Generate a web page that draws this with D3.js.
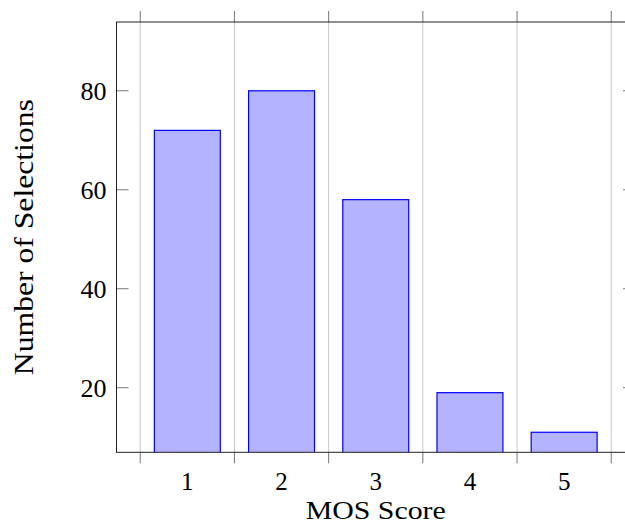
<!DOCTYPE html>
<html><head><meta charset="utf-8">
<script src="https://cdn.jsdelivr.net/npm/d3@7"></script>
<style>body{margin:0;background:#fff}svg{display:block}</style>
</head><body>
<script>
const categories = [1, 2, 3, 4, 5];
const values = [72, 80, 58, 19, 11];
const yTicks = [20, 40, 60, 80];
const xGrid = [0.5, 1.5, 2.5, 3.5, 4.5, 5.5];
const xLabel = "MOS Score";
const yLabel = "Number of Selections";

(function () {
const W = 625, H = 525;
const svg = d3.select("body").append("svg").attr("width", W).attr("height", H);
const pL = 116.5, pR = 635, pT = 22, pB = 452.3;
const x = d3.scaleLinear().domain([0.248, 5.752]).range([pL, pR]);
const y = d3.scaleLinear().domain([6.95, 93.9]).range([pB, pT]);
const font = "'Liberation Serif', 'DejaVu Serif', serif";

// grid
svg.append("g").selectAll("line").data(xGrid).join("line")
  .attr("x1", d => x(d)).attr("x2", d => x(d))
  .attr("y1", pT).attr("y2", pB)
  .attr("stroke", "#c8c8c8").attr("stroke-width", 1);

// bars
svg.append("clipPath").attr("id", "c").append("rect")
  .attr("x", pL).attr("y", pT).attr("width", pR - pL).attr("height", pB - pT);
const bw = 0.7;
svg.append("g").attr("clip-path", "url(#c)").selectAll("rect").data(categories).join("rect")
  .attr("x", (d) => x(d - bw / 2)).attr("width", x(1 + bw) - x(1))
  .attr("y", (d, i) => y(values[i])).attr("height", (d, i) => y(0) - y(values[i]))
  .attr("fill", "#b3b3ff").attr("stroke", "#0000ff").attr("stroke-width", 1.2);

// x tick marks outside top & bottom
const tk = svg.append("g").attr("stroke", "#777").attr("stroke-width", 1);
xGrid.forEach(d => {
  tk.append("line").attr("x1", x(d)).attr("x2", x(d)).attr("y1", pB).attr("y2", pB + 11);
  tk.append("line").attr("x1", x(d)).attr("x2", x(d)).attr("y1", pT - 11).attr("y2", pT);
});
// y tick marks inside left & right
yTicks.forEach(d => {
  tk.append("line").attr("x1", pL).attr("x2", pL + 12).attr("y1", y(d)).attr("y2", y(d));
  tk.append("line").attr("x1", pR - 12).attr("x2", pR).attr("y1", y(d)).attr("y2", y(d));
});

// axis box
svg.append("rect").attr("x", pL).attr("y", pT).attr("width", pR - pL).attr("height", pB - pT)
  .attr("fill", "none").attr("stroke", "#222").attr("stroke-width", 1);

// y tick labels
svg.append("g").selectAll("text").data(yTicks).join("text")
  .attr("x", pL - 10).attr("y", d => y(d)).attr("dy", "0.35em")
  .attr("text-anchor", "end").attr("font-family", font).attr("font-size", 26)
  .attr("fill", "#000").text(d => d);

// x tick labels
svg.append("g").selectAll("text").data(categories).join("text")
  .attr("x", d => x(d)).attr("y", 490)
  .attr("text-anchor", "middle").attr("font-family", font).attr("font-size", 25)
  .attr("fill", "#000").text(d => d);

// axis titles
svg.append("text").attr("x", (pL + pR) / 2).attr("y", 519)
  .attr("text-anchor", "middle").attr("font-family", font).attr("font-size", 25)
  .attr("textLength", 140).attr("lengthAdjust", "spacingAndGlyphs").text(xLabel);
svg.append("text").attr("transform", `translate(33,${(pT + pB) / 2}) rotate(-90)`)
  .attr("text-anchor", "middle").attr("font-family", font).attr("font-size", 27)
  .attr("textLength", 276).attr("lengthAdjust", "spacingAndGlyphs").text(yLabel);
})();
</script>
</body></html>
